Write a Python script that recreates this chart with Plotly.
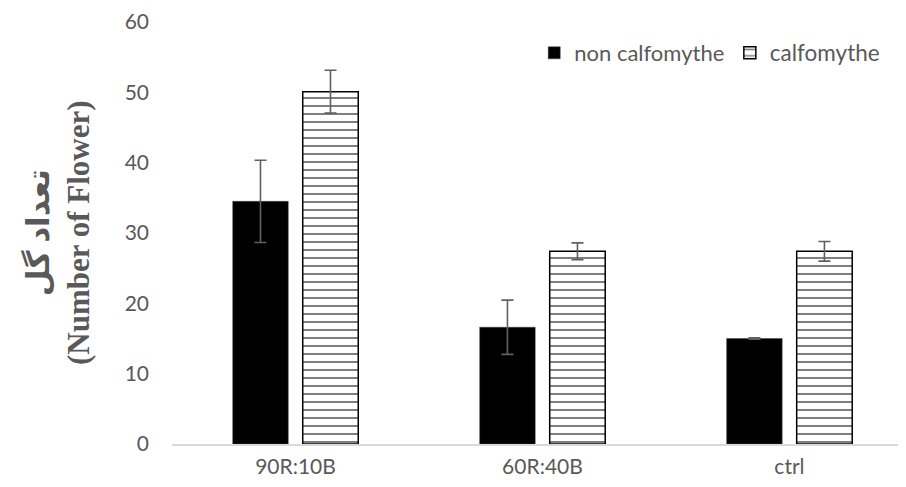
import plotly.graph_objects as go

categories = ["90R:10B", "60R:40B", "ctrl"]
non_calfomythe = [34.5, 16.6, 15.0]
non_calfomythe_err = [5.85, 3.85, 0.1]
calfomythe = [50.1, 27.4, 27.4]
calfomythe_err = [3.05, 1.2, 1.4]
y_ticks = [0, 10, 20, 30, 40, 50, 60]

GRAY = "#595959"
FONT = "Lato, 'Open Sans', sans-serif"

fig = go.Figure()
fig.add_trace(go.Bar(
    x=categories, y=non_calfomythe, name="non calfomythe",
    marker=dict(color="black", line=dict(color="#404040", width=0.5)),
    error_y=dict(type="data", array=non_calfomythe_err, color="#606060", thickness=1.6, width=6),
    legend="legend", showlegend=True,
))
fig.add_trace(go.Bar(
    x=categories, y=calfomythe, name="calfomythe",
    marker=dict(color="white", line=dict(color="black", width=1.5),
                pattern=dict(shape="-", fgcolor="black", bgcolor="white", size=8, solidity=0.25)),
    error_y=dict(type="data", array=calfomythe_err, color="#606060", thickness=1.6, width=6),
    legend="legend2", showlegend=True,
))

fig.update_layout(
    width=898, height=479,
    margin=dict(l=164, r=0, t=14, b=43),
    paper_bgcolor="white", plot_bgcolor="white",
    showlegend=True,
    barmode="group", bargap=0.433, bargroupgap=0.207,
    font=dict(family=FONT, size=21, color=GRAY),
    legend=dict(orientation="h", x=0.4935, xanchor="left", y=0.9265, yanchor="middle",
                font=dict(size=22, color=GRAY), bgcolor="rgba(0,0,0,0)", visible=True),
    legend2=dict(orientation="h", x=0.760, xanchor="left", y=0.9265, yanchor="middle",
                 font=dict(size=22.5, color=GRAY), bgcolor="rgba(0,0,0,0)", visible=True),
    xaxis=dict(range=[-0.5, 2.472], showline=True, linecolor="#d9d9d9", linewidth=1.5,
               showgrid=False, ticks="", ticklabelstandoff=3, tickfont=dict(size=21, color=GRAY)),
    yaxis=dict(range=[0, 60], tickvals=y_ticks, showgrid=False, showline=False, zeroline=False,
               ticks="", ticklabelstandoff=22, tickfont=dict(size=21, color=GRAY)),
    annotations=[dict(
        text="تعداد گل<br>(Number of Flower)",
        xref="paper", yref="paper", x=-0.1553, y=0.5, xanchor="center", yanchor="middle",
        textangle=-90, showarrow=False,
        font=dict(family="'Liberation Serif', 'DejaVu Sans', serif", size=31, color=GRAY, weight="bold"),
    )],
)

fig.write_html("out.html")
